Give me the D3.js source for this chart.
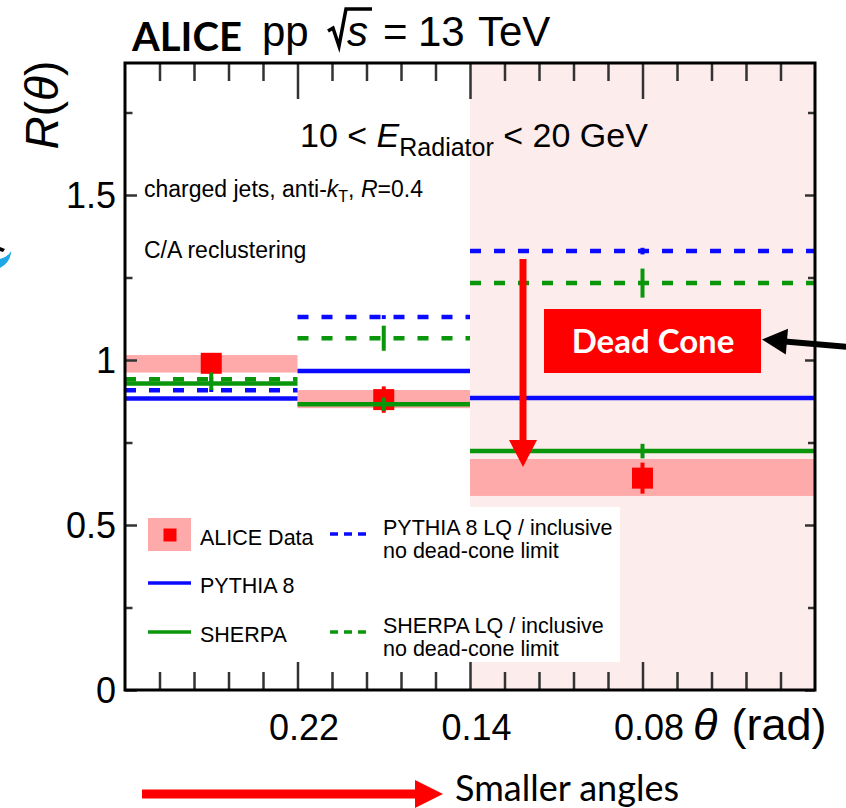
<!DOCTYPE html>
<html><head><meta charset="utf-8">
<script src="https://cdn.jsdelivr.net/npm/d3@7"></script>
<style>body{margin:0;background:#fff} text{white-space:pre}</style>
</head><body><svg id="c" width="846" height="808"></svg>
<script>
// ---------- data ----------
const binEdges = [0, 5, 10, 20];          // axis units (bin boundaries)
const binCenters = [2.5, 7.5, 15];
const xTickValues = [5, 10, 15];
const xTickLabels = ["0.22", "0.14", "0.08"];
const yTickValues = [0, 0.5, 1, 1.5];
const yTickLabels = ["0", "0.5", "1", "1.5"];
const aliceData    = [0.990, 0.880, 0.642];
const aliceStat    = [0.020, 0.040, 0.047];
const aliceSysLow  = [0.962, 0.854, 0.588];
const aliceSysHigh = [1.015, 0.909, 0.700];
const pythia       = [0.883, 0.967, 0.885];
const pythiaErr    = [0.004, 0.004, 0.005];
const sherpa       = [0.929, 0.866, 0.724];
const sherpaErr    = [0.020, 0.020, 0.022];
const pythiaLQ     = [0.908, 1.130, 1.330];
const pythiaLQErr  = [0.005, 0.006, 0.010];
const sherpaLQ     = [0.942, 1.066, 1.233];
const sherpaLQErr  = [0.020, 0.038, 0.044];
const deadConeRange = [10, 20];
const legendCol1 = ["ALICE Data", "PYTHIA 8", "SHERPA"];
const legendCol2 = [["PYTHIA 8 LQ / inclusive", "no dead-cone limit"],
                    ["SHERPA LQ / inclusive", "no dead-cone limit"]];

// ---------- setup ----------
const svg = d3.select("#c");
const x = d3.scaleLinear().domain([0, 20]).range([125, 815]);
const y = d3.scaleLinear().domain([0, 1.9]).range([690, 63]);
const BLUE = "#0a0aff", GREEN = "#0a960a", RED = "#ff0000", PINK = "#ffaaaa";
const helv = "'Liberation Sans', Arial, sans-serif";
const lato = "Lato, 'Open Sans', sans-serif";

// dead-cone shaded region
svg.append("rect")
  .attr("x", x(deadConeRange[0])).attr("y", y(1.9))
  .attr("width", x(deadConeRange[1]) - x(deadConeRange[0]))
  .attr("height", y(0) - y(1.9))
  .attr("fill", "#fdecec");

const bins = d3.range(aliceData.length);

// systematic boxes
svg.append("g").selectAll("rect").data(bins).join("rect")
  .attr("x", i => x(binEdges[i])).attr("width", i => x(binEdges[i+1]) - x(binEdges[i]))
  .attr("y", i => y(aliceSysHigh[i])).attr("height", i => y(aliceSysLow[i]) - y(aliceSysHigh[i]))
  .attr("fill", PINK);

// data stat error bars + markers
svg.append("g").selectAll("line").data(bins).join("line")
  .attr("x1", i => x(binCenters[i])).attr("x2", i => x(binCenters[i]))
  .attr("y1", i => y(aliceData[i] - aliceStat[i])).attr("y2", i => y(aliceData[i] + aliceStat[i]))
  .attr("stroke", RED).attr("stroke-width", 4);
svg.append("g").selectAll("rect").data(bins).join("rect")
  .attr("x", i => x(binCenters[i]) - 10.5).attr("y", i => y(aliceData[i]) - 10.5)
  .attr("width", 21).attr("height", 21).attr("fill", RED);

function drawSeries(vals, errs, color, dash) {
  const g = svg.append("g");
  g.selectAll("line.h").data(bins).join("line").attr("class", "h")
    .attr("x1", i => x(binEdges[i])).attr("x2", i => x(binEdges[i+1]))
    .attr("y1", i => y(vals[i])).attr("y2", i => y(vals[i]))
    .attr("stroke", color).attr("stroke-width", 4.5)
    .attr("stroke-dasharray", dash || null);
  g.selectAll("line.v").data(bins).join("line").attr("class", "v")
    .attr("x1", i => x(binCenters[i])).attr("x2", i => x(binCenters[i]))
    .attr("y1", i => y(vals[i] - errs[i])).attr("y2", i => y(vals[i] + errs[i]))
    .attr("stroke", color).attr("stroke-width", 4);
}
drawSeries(pythiaLQ, pythiaLQErr, BLUE, "11,13");
drawSeries(sherpaLQ, sherpaLQErr, GREEN, "11,13");
drawSeries(pythia, pythiaErr, BLUE);
drawSeries(sherpa, sherpaErr, GREEN);

// ---------- axes ----------
const minorX = d3.range(1, 20).filter(v => !xTickValues.includes(v));
const minorY = [0.25, 0.75, 1.25, 1.75];
function styleTicks(g) {
  g.select(".domain").remove();
  g.selectAll(".tick line").attr("stroke", "#333").attr("stroke-width", 2.5);
}
svg.append("g").attr("transform", `translate(0,${y(0)})`)
  .call(d3.axisBottom(x).tickValues(minorX).tickSize(-18).tickFormat("")).call(styleTicks);
svg.append("g").attr("transform", `translate(0,${y(1.9)})`)
  .call(d3.axisTop(x).tickValues(minorX).tickSize(-18).tickFormat("")).call(styleTicks);
svg.append("g").attr("transform", `translate(0,${y(1.9)})`)
  .call(d3.axisTop(x).tickValues(xTickValues).tickSize(-36).tickFormat("")).call(styleTicks);
svg.append("g").attr("transform", `translate(${x(0)},0)`)
  .call(d3.axisLeft(y).tickValues(minorY).tickSize(-7.5).tickFormat("")).call(styleTicks);
svg.append("g").attr("transform", `translate(${x(20)},0)`)
  .call(d3.axisRight(y).tickValues(minorY).tickSize(-7).tickFormat("")).call(styleTicks);
svg.append("g").attr("transform", `translate(${x(20)},0)`)
  .call(d3.axisRight(y).tickValues(yTickValues).tickSize(-10).tickFormat("")).call(styleTicks);

// ---------- legend ----------
const lg = svg.append("g");
lg.append("rect").attr("x", 140).attr("y", 507).attr("width", 480).attr("height", 155).attr("fill", "#fff");
const rowY = [535, 583, 632];
lg.append("rect").attr("x", 148).attr("y", rowY[0] - 17).attr("width", 43).attr("height", 33).attr("fill", PINK);
lg.append("rect").attr("x", 163.5).attr("y", rowY[0] - 6.5).attr("width", 13).attr("height", 13).attr("fill", RED);
lg.append("line").attr("x1", 148).attr("x2", 191).attr("y1", rowY[1]).attr("y2", rowY[1]).attr("stroke", BLUE).attr("stroke-width", 3.5);
lg.append("line").attr("x1", 148).attr("x2", 191).attr("y1", rowY[2]).attr("y2", rowY[2]).attr("stroke", GREEN).attr("stroke-width", 3.5);
lg.selectAll("text.c1").data(legendCol1).join("text").attr("class", "c1")
  .attr("x", 200).attr("y", (d, i) => rowY[i] + 10)
  .attr("font-family", helv).attr("font-size", 21.5).text(d => d);
const col2Y = [534, 632];
[BLUE, GREEN].forEach((c, i) => {
  lg.append("line").attr("x1", 330).attr("x2", 366).attr("y1", col2Y[i]).attr("y2", col2Y[i])
    .attr("stroke", c).attr("stroke-width", 3.5).attr("stroke-dasharray", "8,6");
  const t = lg.append("text").attr("font-family", helv).attr("font-size", 21.5);
  t.append("tspan").attr("x", 383).attr("y", col2Y[i] + 1).text(legendCol2[i][0]);
  t.append("tspan").attr("x", 383).attr("y", col2Y[i] + 24).text(legendCol2[i][1]);
});

// major bottom ticks + labels
svg.append("g").attr("transform", `translate(0,${y(0)})`)
  .call(d3.axisBottom(x).tickValues(xTickValues).tickSize(-28).tickPadding(24)
    .tickFormat((d, i) => xTickLabels[i]))
  .call(styleTicks)
  .call(g => g.selectAll("text").attr("font-family", helv).attr("font-size", 36)
    .attr("fill", "#000").attr("dx", 6));
svg.append("g").attr("transform", `translate(${x(0)},0)`)
  .call(d3.axisLeft(y).tickValues(yTickValues).tickSize(-12).tickPadding(9)
    .tickFormat((d, i) => yTickLabels[i]))
  .call(styleTicks)
  .call(g => g.selectAll("text").attr("font-family", helv).attr("font-size", 36)
    .attr("fill", "#000").attr("dy", "0.36em"));

// frame
svg.append("rect").attr("x", x(0)).attr("y", y(1.9)).attr("width", x(20) - x(0)).attr("height", y(0) - y(1.9))
  .attr("fill", "none").attr("stroke", "#000").attr("stroke-width", 3);

// axis titles
const xt = svg.append("text").attr("x", 693).attr("y", 740).attr("font-family", helv).attr("font-size", 45);
xt.append("tspan").attr("font-style", "italic").text("θ");
xt.append("tspan").attr("dx", 14).text("(rad)");
svg.append("text").attr("transform", "translate(58,105) rotate(-90)").attr("text-anchor", "middle")
  .attr("font-family", helv).attr("font-size", 46)
  .call(t => { t.append("tspan").attr("font-style", "italic").text("R");
               t.append("tspan").text("(");
               t.append("tspan").attr("font-style", "italic").text("θ");
               t.append("tspan").text(")"); });

// ---------- title ----------
svg.append("text").attr("x", 132).attr("y", 51).attr("font-family", lato).attr("font-weight", 700)
  .attr("font-size", 40).text("ALICE");
const tt = svg.append("g").attr("font-family", helv).attr("font-size", 42);
tt.append("text").attr("x", 262).attr("y", 46).text("pp");
tt.append("text").attr("x", 347).attr("y", 46).attr("font-style", "italic").text("s");
tt.append("text").attr("x", 383).attr("y", 46).text("=");
tt.append("text").attr("x", 418).attr("y", 46).text("13");
tt.append("text").attr("x", 478).attr("y", 46).text("TeV");
svg.append("path").attr("d", "M328,31 L333,28 L339,46 L346,9 L372,9")
  .attr("fill", "none").attr("stroke", "#000").attr("stroke-width", 3.5).attr("stroke-linejoin", "miter");

// ---------- annotations ----------
const et = svg.append("text").attr("x", 300).attr("y", 147).attr("font-family", helv).attr("font-size", 34);
et.append("tspan").text("10 < ");
et.append("tspan").attr("font-style", "italic").text("E");
et.append("tspan").attr("font-size", 25).attr("dy", 9).text("Radiator");
et.append("tspan").attr("dy", -9).text(" < 20 GeV");

const ct = svg.append("text").attr("x", 144).attr("y", 197).attr("font-family", helv).attr("font-size", 23);
ct.append("tspan").text("charged jets, anti-");
ct.append("tspan").attr("font-style", "italic").text("k");
ct.append("tspan").attr("font-size", 16).attr("dy", 5).text("T");
ct.append("tspan").attr("dy", -5).text(", ");
ct.append("tspan").attr("font-style", "italic").text("R");
ct.append("tspan").text("=0.4");
svg.append("text").attr("x", 144).attr("y", 258).attr("font-family", helv).attr("font-size", 23).text("C/A reclustering");

// red vertical arrow
svg.append("line").attr("x1", 523).attr("x2", 523).attr("y1", 259).attr("y2", 442).attr("stroke", RED).attr("stroke-width", 7);
svg.append("path").attr("d", "M509,440 L537,440 L523,467 Z").attr("fill", RED);

// Dead Cone box
svg.append("rect").attr("x", 544).attr("y", 309).attr("width", 217).attr("height", 64).attr("fill", RED);
svg.append("text").attr("x", 653).attr("y", 353).attr("text-anchor", "middle").attr("font-family", lato)
  .attr("font-weight", 700).attr("font-size", 33).attr("fill", "#fff").text("Dead Cone");

// black arrow pointing to the box
(function(){
  const tip = [762, 339.5], tail = [850, 347];
  const dx = tail[0] - tip[0], dy = tail[1] - tip[1], L = Math.hypot(dx, dy);
  const ux = dx / L, uy = dy / L, hl = 25, hw = 13;
  const bx = tip[0] + ux * hl, by = tip[1] + uy * hl;
  svg.append("line").attr("x1", bx - ux * 2).attr("y1", by - uy * 2).attr("x2", tail[0]).attr("y2", tail[1])
    .attr("stroke", "#000").attr("stroke-width", 6);
  svg.append("path").attr("d", `M${tip[0]},${tip[1]} L${bx - uy*hw},${by + ux*hw} L${bx + uy*hw},${by - ux*hw} Z`).attr("fill", "#000");
})();

// bottom arrow + text
svg.append("rect").attr("x", 142).attr("y", 789.5).attr("width", 275).attr("height", 9).attr("fill", RED);
svg.append("path").attr("d", "M415,780 L415,808 L443,794 Z").attr("fill", RED);
svg.append("text").attr("x", 455).attr("y", 801).attr("font-family", lato).attr("font-size", 36).attr("fill", "#000").text("Smaller angles");

// small clipped logo remnant at left edge
svg.append("path").attr("d", "M0,259 Q8,257 11,251 Q11,262 0,268 Z").attr("fill", "#1ea7e6");
svg.append("path").attr("d", "M0,247 L5,249 L3,252 L0,251 Z").attr("fill", "#000");
</script>
</body></html>
